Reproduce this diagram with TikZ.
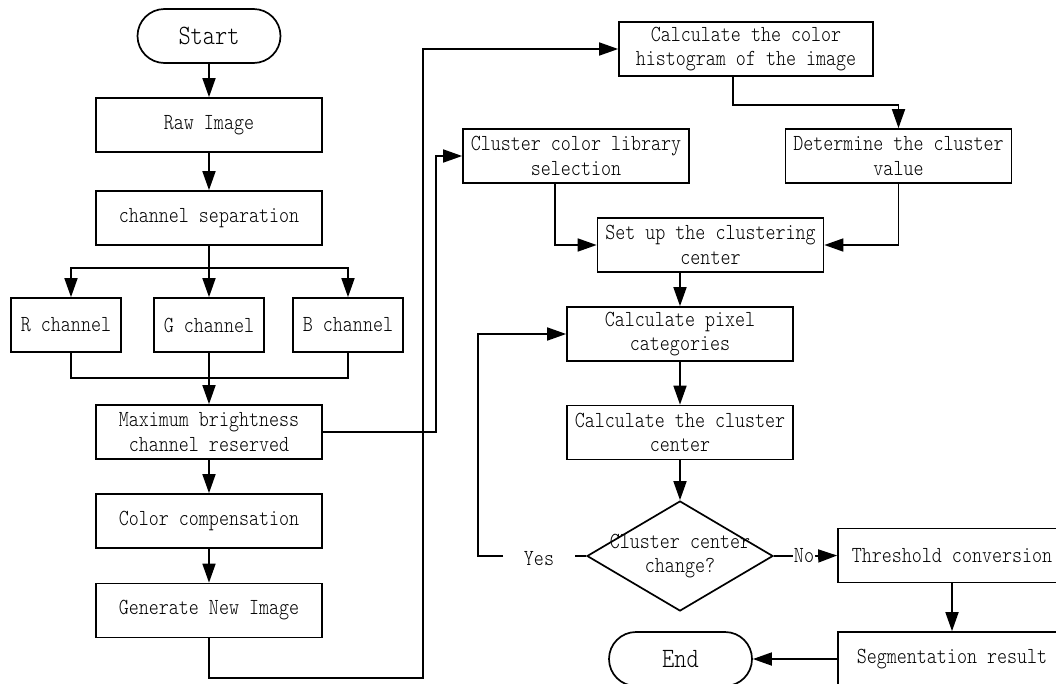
\documentclass[tikz,border=0pt]{standalone}
\usepackage{fontspec}
\newfontfamily\boxfnt{lmmonolt10-regular}[Extension=.otf, FakeStretch=0.83]
\usetikzlibrary{arrows.meta,shapes.geometric}
\begin{document}
\begin{tikzpicture}[x=1pt,y=-1pt,
  every node/.style={font=\boxfnt\fontsize{23}{24.5}\selectfont, align=center, inner sep=0pt},
  box/.style={draw, line width=1.7pt, minimum width=226pt, minimum height=54pt},
  term/.style={draw, line width=1.7pt, minimum width=143pt, minimum height=54pt, rounded corners=27pt, font=\boxfnt\fontsize{28}{30}\selectfont},
  conn/.style={line width=1.7pt},
  arr/.style={conn, -{Triangle[length=19pt,width=13pt]}},
]
\useasboundingbox (0,0) rectangle (1056,683);
\clip (0,0) rectangle (1056,683);

% left column
\node[term] (start) at (209,36) {Start};
\node[box] (raw) at (209,125) {Raw Image};
\node[box] (sep) at (209,218) {channel separation};
\node[box, minimum width=110pt] (R) at (66,325) {R channel};
\node[box, minimum width=110pt] (G) at (209,325) {G channel};
\node[box, minimum width=110pt] (B) at (348,325) {B channel};
\node[box] (max) at (209,432) {Maximum brightness\\channel reserved};
\node[box] (comp) at (209,521) {Color compensation};
\node[box] (gen) at (209,610.5) {Generate New Image};

% right part
\node[box, minimum width=254pt] (hist) at (746,49) {Calculate the color\\histogram of the image};
\node[box] (lib) at (576,156) {Cluster color library\\selection};
\node[box] (det) at (898.5,156) {Determine the cluster\\value};
\node[box] (setup) at (710.5,245) {Set up the clustering\\center};
\node[box] (pix) at (680,334) {Calculate pixel\\categories};
\node[box] (cen) at (680,432.5) {Calculate the cluster\\center};
\node[diamond, draw, line width=1.7pt, minimum width=186pt, minimum height=110pt] (dia) at (680,556) {};
\node (diat) at (dia.center) {Cluster center\\change?};
\node[box, minimum width=228pt] (thr) at (952,555.5) {Threshold conversion};
\node[box, minimum width=228pt] (seg) at (952,659) {Segmentation result};
\node[term] (end) at (680.5,659) {End};
\node[minimum width=72pt, minimum height=20pt] (yes) at (539,559) {Yes};
\node[inner sep=1pt] (no) at (804,556) {No};

% helper coordinates
\coordinate (b) at (209,268);
\coordinate (j) at (209,378);
\coordinate (c1) at (423,678);
\coordinate (c2) at (436,156);
\coordinate (c3) at (898.5,105);
\coordinate (c4) at (478,556);
\coordinate (yl) at (503,556);
\coordinate (yr) at (575,556);

% connectors
\draw[arr] (start) -- (raw);
\draw[arr] (raw) -- (sep);
\draw[arr] (sep) -- (G);
\draw[arr] (b) -| ([xshift=5pt]R.north);
\draw[arr] (b) -| (B.north);
\draw[conn] ([xshift=5pt]R.south) |- (j) -| (B.south);
\draw[arr] (G) -- (max);
\draw[arr] (max) -- (comp);
\draw[arr] (comp) -- (gen);
\draw[arr] (gen.south) |- (c1) |- (hist.west);
\draw[arr] (max.east) -| (c2) -- (lib.west);
\draw[arr] ([xshift=-13pt]hist.south) |- (c3) -- (det.north);
\draw[arr] ([xshift=-21pt]lib.south) |- (setup.west);
\draw[arr] (det.south) |- (setup.east);
\draw[arr] (pix.north |- setup.south) -- (pix.north);
\draw[arr] (pix) -- (cen);
\draw[arr] (cen) -- (dia);
\draw[conn] (dia.west) -- (yr);
\draw[arr] (yl) -- (c4) |- (pix.west);
\draw[conn] (dia.east) -- (no.west);
\draw[arr] (no.east) -- (thr.west);
\draw[arr] (thr) -- (seg);
\draw[arr] (seg) -- (end);
\end{tikzpicture}
\end{document}
